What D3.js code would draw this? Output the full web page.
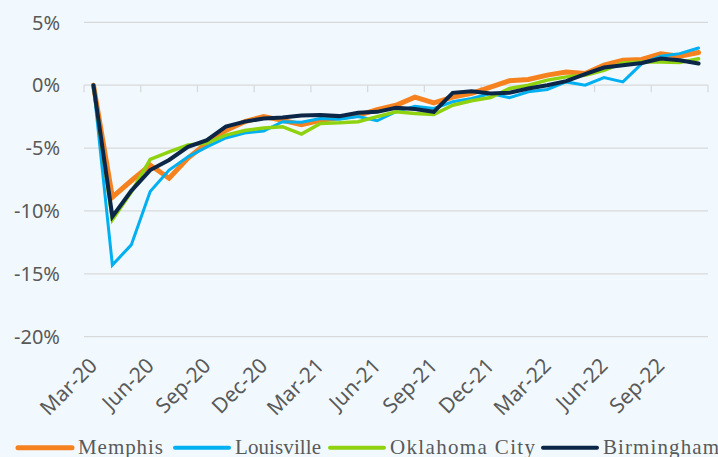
<!DOCTYPE html>
<html>
<head>
<meta charset="utf-8">
<script src="https://cdn.jsdelivr.net/npm/d3@7/dist/d3.min.js"></script>
<style>
  html, body { margin: 0; padding: 0; background: #F2F9FE; }
  svg { display: block; }
</style>
</head>
<body>
<svg id="chart" width="718" height="457"></svg>
<script>
// ---- Data ----
const months = ["Mar-20","Apr-20","May-20","Jun-20","Jul-20","Aug-20","Sep-20","Oct-20","Nov-20","Dec-20",
  "Jan-21","Feb-21","Mar-21","Apr-21","May-21","Jun-21","Jul-21","Aug-21","Sep-21","Oct-21","Nov-21","Dec-21",
  "Jan-22","Feb-22","Mar-22","Apr-22","May-22","Jun-22","Jul-22","Aug-22","Sep-22","Oct-22","Nov-22"];

const memphis = [0, -8.9, -7.6, -6.35, -7.4, -5.8, -4.6, -3.6, -2.9, -2.5, -2.8, -3.15, -2.8, -2.6, -2.4, -1.95, -1.6, -0.95, -1.4, -0.95, -0.65, -0.15, 0.35, 0.45, 0.8, 1.05, 0.93, 1.6, 1.98, 2.05, 2.5, 2.3, 2.6];
const louisville = [0, -14.3, -12.7, -8.46, -6.75, -5.7, -4.9, -4.2, -3.8, -3.65, -2.9, -2.95, -2.65, -2.7, -2.5, -2.83, -2.1, -1.67, -1.85, -1.32, -1.06, -0.66, -1.0, -0.53, -0.34, 0.26, 0.0, 0.61, 0.26, 1.72, 2.3, 2.51, 2.96];
const oklahomaCity = [0, -10.7, -8.5, -5.9, -5.3, -4.76, -4.6, -3.97, -3.6, -3.4, -3.3, -3.89, -3.04, -2.99, -2.9, -2.5, -2.12, -2.25, -2.33, -1.59, -1.24, -0.98, -0.26, 0.0, 0.4, 0.66, 0.79, 1.19, 1.77, 1.85, 1.85, 1.8, 2.1];
const birmingham = [0, -10.45, -8.4, -6.75, -5.95, -4.9, -4.37, -3.3, -2.9, -2.65, -2.57, -2.42, -2.38, -2.46, -2.2, -2.12, -1.8, -1.9, -2.12, -0.61, -0.48, -0.66, -0.6, -0.26, 0.0, 0.32, 0.87, 1.4, 1.59, 1.77, 2.12, 1.98, 1.72];

const seriesNames = ["Memphis", "Louisville", "Oklahoma City", "Birmingham"];
const yTicks = [5, 0, -5, -10, -15, -20];

// ---- Styles ----
const colors = ["#F5821F", "#00B0F0", "#8FD20F", "#0B2646"];
const widths = [5, 3, 3.5, 4];
const seriesData = [memphis, louisville, oklahomaCity, birmingham];
const legendX = [18, 175, 330, 543];
const legendTextW = [85, 86, 145, 116];

const svg = d3.select("#chart");
const left = 84, right = 708;

const x = d3.scaleBand().domain(months).range([left, right]).paddingInner(0).paddingOuter(0);
const y = d3.scaleLinear().domain([-20, 5]).range([336.7, 22.3]);
const cx = m => x(m) + x.bandwidth() / 2;

// gridlines
svg.append("g").selectAll("line").data(yTicks).join("line")
  .attr("x1", left).attr("x2", right)
  .attr("y1", d => y(d)).attr("y2", d => y(d))
  .attr("stroke", "#D9D9D9").attr("stroke-width", 1.3);

// y labels
svg.append("g").selectAll("text").data(yTicks).join("text")
  .attr("x", 60).attr("y", d => y(d))
  .attr("dy", "0.36em")
  .attr("text-anchor", "end")
  .attr("font-family", "'Noto Sans', sans-serif")
  .attr("font-size", 20)
  .attr("fill", "#595959")
  .text(d => d + "%");

// x tick marks on 0 line, every 3 months (band edges)
const tickIdx = months.map((m, i) => i).filter(i => i % 3 === 0);
const tickX = tickIdx.map(i => x(months[i])).concat([x.range()[1]]);
svg.append("g").selectAll("line").data(tickX).join("line")
  .attr("x1", d => d).attr("x2", d => d)
  .attr("y1", y(0)).attr("y2", y(0) + 7)
  .attr("stroke", "#D9D9D9").attr("stroke-width", 1.3);

// x labels
svg.append("g").selectAll("text").data(tickIdx.map(i => months[i])).join("text")
  .attr("transform", d => `translate(${cx(d) + 5},367) rotate(-45)`)
  .attr("text-anchor", "end")
  .attr("font-family", "'Noto Sans', sans-serif")
  .attr("font-size", 21)
  .attr("fill", "#595959")
  .text(d => d);

// lines
const line = d3.line().x((d, i) => cx(months[i])).y(d => y(d));
svg.append("g").selectAll("path").data(seriesData).join("path")
  .attr("d", d => line(d))
  .attr("fill", "none")
  .attr("stroke", (d, i) => colors[i])
  .attr("stroke-width", (d, i) => widths[i])
  .attr("stroke-linejoin", "miter")
  .attr("stroke-linecap", "round");

// legend
const lg = svg.append("g");
const ly = 447.7;
seriesNames.forEach((name, i) => {
  const lx = legendX[i];
  lg.append("line")
    .attr("x1", lx).attr("x2", lx + 54)
    .attr("y1", ly).attr("y2", ly)
    .attr("stroke", colors[i]).attr("stroke-width", i === 0 ? 5 : 4)
    .attr("stroke-linecap", "round");
  lg.append("text")
    .attr("x", lx + 60).attr("y", 454)
    .attr("font-family", "'Liberation Serif', 'Times New Roman', serif")
    .attr("font-size", 21)
    .attr("textLength", legendTextW[i])
    .attr("lengthAdjust", "spacing")
    .attr("fill", "#595959")
    .text(name);
});
</script>
</body>
</html>
